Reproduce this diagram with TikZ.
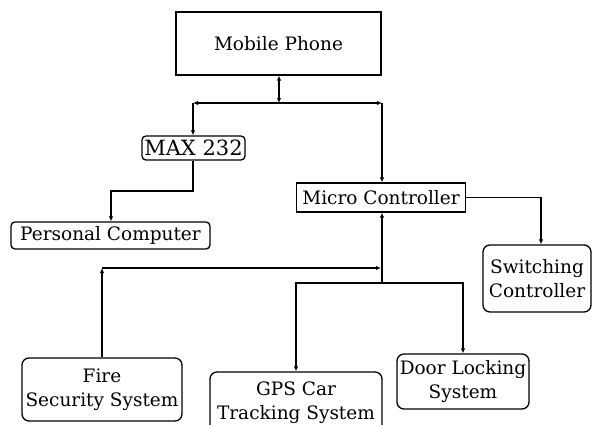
\documentclass[tikz,border=0pt]{standalone}
\usepackage{fontspec}
\setmainfont{DejaVu Serif}
\usetikzlibrary{arrows.meta}
\begin{document}
\begin{tikzpicture}[x=1pt,y=-1pt,
  conn/.style={line width=1.3pt,-{Latex[length=5pt,width=4.5pt]}},
  dconn/.style={line width=1.3pt,{Latex[length=5pt,width=4.5pt]}-{Latex[length=5pt,width=4.5pt]}},
  sq/.style={draw,line width=1.3pt,inner sep=0pt,align=center,font=\fontsize{18.5}{24}\selectfont},
  rb/.style={sq,rounded corners=7pt}]
\clip (0,0) rectangle (592,424);
\fill[white] (0,0) rectangle (592,424);
\node[sq,minimum width=205,minimum height=63] (mp) at (278.5,43.5) {Mobile Phone};
\node[rb,rounded corners=4pt,minimum width=103,minimum height=24,font=\fontsize{21}{24}\selectfont] (max) at (193.5,148) {MAX 232};
\node[rb,rounded corners=4pt,minimum width=199,minimum height=27] (pc) at (110.5,235.5) {Personal Computer};
\node[sq,minimum width=169,minimum height=29] (mc) at (381,197.5) {Micro Controller};
\node[rb,minimum width=108,minimum height=67] (sw) at (537,278.5) {Switching\\Controller};
\node[rb,minimum width=160,minimum height=63] (fire) at (102,389.5) {Fire\\Security System};
\node[rb,minimum width=172,minimum height=62] (gps) at (296,403) {GPS Car\\Tracking System};
\node[rb,minimum width=132,minimum height=55] (door) at (463,381.5) {Door Locking\\System};
\coordinate (b) at (279,103);
\coordinate (bl) at (193,103);
\coordinate (br) at (382,103);
\coordinate (m1) at (111,191);
\coordinate (f1) at (102,268);
\coordinate (j1) at (381,268);
\coordinate (j2) at (382,283);
\draw[dconn] (b |- mp.south) -- (b);
\draw[dconn] (bl) -- (br);
\draw[conn] (bl) -- (bl |- max.north);
\draw[conn] (br) -- (br |- mc.north);
\draw[conn] (bl |- max.south) |- (m1) -- (m1 |- pc.north);
\draw[conn] (mc.east) -| ([xshift=4pt]sw.north);
\draw[conn] (fire.north) -- (f1);
\draw[conn] (f1) -- (j1);
\draw[conn] (j2) -- (j2 |- mc.south);
\draw[conn] (j2) -| (gps.north);
\draw[conn] (j2) -| (door.north);
\end{tikzpicture}
\end{document}
